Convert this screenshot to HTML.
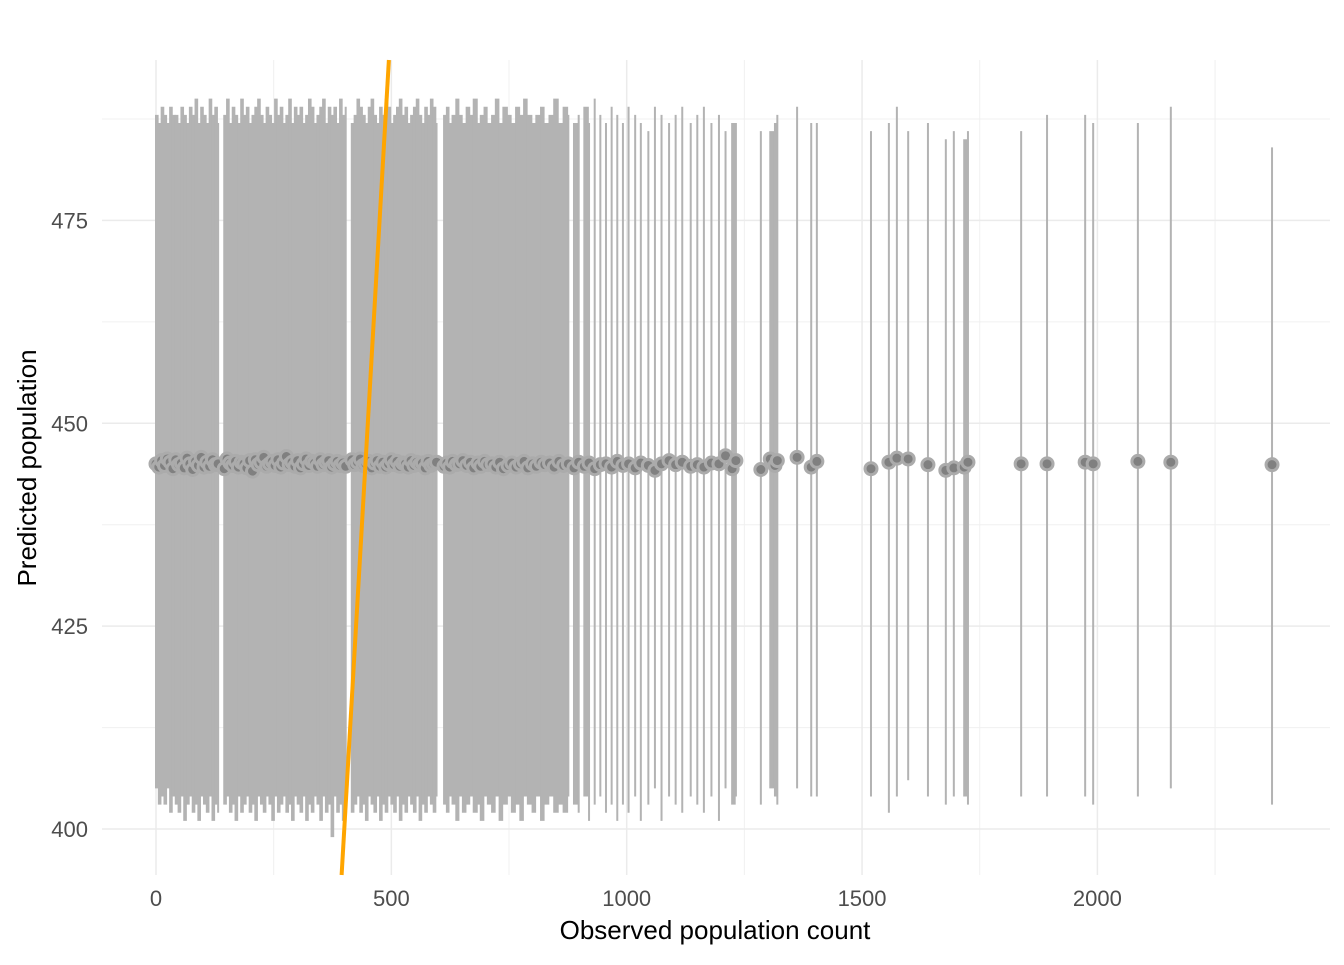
<!DOCTYPE html>
<html><head><meta charset="utf-8">
<style>
html,body{margin:0;padding:0;background:#fff;}
svg text{font-family:"Liberation Sans",Arial,sans-serif;}
</style></head>
<body>
<svg id="chart" width="1344" height="960" viewBox="0 0 1344 960" xmlns="http://www.w3.org/2000/svg">
<g id="grid"></g>
<g id="bars"></g>
<g id="pts"></g>
<g id="ref"></g>
<g id="axes"></g>
<text x="715" y="939" font-size="26" text-anchor="middle" fill="#000">Observed population count</text>
<text x="0" y="0" font-size="26" text-anchor="middle" fill="#000" transform="translate(36,468) rotate(-90)">Predicted population</text>
</svg>
<script>
const xTicks=[0,500,1000,1500,2000];
const xMinor=[250,750,1250,1750,2250];
const yTicks=[400,425,450,475];
const yMinor=[412.5,437.5,462.5,487.5];
const obs=[0,6,12,18,24,30,36,42,48,54,60,66,72,78,84,90,96,102,108,114,120,126,132,145,151,157,163,169,175,181,187,193,199,205,211,217,223,229,235,241,247,253,259,265,271,277,283,289,295,301,307,313,319,325,331,337,343,349,355,361,367,373,379,385,391,397,403,416,422,428,434,440,446,452,458,464,470,476,482,488,494,500,506,512,518,524,530,536,542,548,554,560,566,572,578,584,590,596,612,618,
624,630,638,645,652,660,668,675,684,690,698,705,714,722,730,738,748,756,765,774,782,790,800,808,818,826,836,846,856,866,876,888,898,910,920,932,944,956,968,980,992,1004,1018,1030,1046,1060,1074,1090,1104,1118,1136,1150,1164,1180,1196,1210,1224,1232,
1285,1305,1315,1320,1362,1392,1404,1519,1557,1574,1598,1640,1678,1695,1717,1725,1838,1893,1974,1991,2086,2156,2371];
const pred=[445,444.6,445.4,444.8,445.6,445.2,444.4,445.5,444.9,445.1,444.5,445.7,445.0,444.3,445.3,444.8,445.8,444.6,445.2,444.7,445.5,444.9,445.0,444.4,445.6,445.1,444.8,445.3,444.6,445.2,445.0,444.5,445.4,444.1,445.5,444.9,445.2,445.8,444.7,445.0,445.3,444.8,445.5,444.6,445.1,445.9,444.9,445.2,444.7,445.4,444.5,445.0,445.6,444.8,445.3,445.1,444.7,445.5,444.9,445.2,445.4,444.6,445.0,445.3,444.8,445.1,444.7,445.5,444.9,445.2,445.6,444.8,445.0,445.3,444.5,445.1,445.4,444.7,445.2,444.6,445.0,445.5,444.9,445.3,444.7,445.1,445.0,444.6,445.4,444.8,445.2,444.9,445.1,444.5,445.3,444.8,445.0,445.2,444.7,445.1,
444.6,445.3,444.9,445.0,445.4,444.8,445.2,444.5,445.1,444.7,445.3,444.9,445.0,444.6,445.2,444.4,444.8,445.1,444.6,445.0,445.3,444.5,445.0,444.7,445.2,444.9,445.1,444.6,445.3,444.8,445.0,444.5,445.2,444.7,445.1,444.4,444.9,445.0,444.6,445.3,444.8,445.0,444.5,445.1,444.8,444.2,445.0,445.4,444.9,445.2,444.7,444.9,444.6,445.1,445.0,446.0,444.4,445.4,
444.3,445.6,444.8,445.4,445.8,444.6,445.3,444.4,445.2,445.7,445.6,444.9,444.2,444.5,444.6,445.2,445.0,445.0,445.2,445.0,445.3,445.2,444.9];
const lo=[405,403,404,403,405,402,404,403,402,404,401,403,404,402,403,401,404,403,402,404,401,403,402,403,404,402,403,401,404,402,403,404,402,403,401,404,403,402,404,403,401,404,402,403,404,402,403,401,404,403,402,404,401,403,402,404,403,401,404,402,403,399,404,402,403,401,404,402,403,404,402,403,401,404,403,402,404,401,403,402,404,403,402,404,401,403,402,404,403,402,404,401,403,402,404,403,402,404,403,402,
404,403,401,404,402,403,404,402,403,401,404,403,402,404,401,403,404,402,403,401,404,403,402,404,401,403,404,402,403,402,404,403,402,404,401,403,404,402,403,401,403,402,404,401,403,405,401,404,403,402,404,403,402,404,401,405,403,404,
403,405,404,403,405,404,404,404,402,404,406,404,403,404,404,403,404,404,404,403,404,405,403];
const hi=[488,487,489,488,487,489,488,488,487,489,488,487,489,488,490,487,489,488,487,490,488,489,487,488,490,487,489,488,487,490,488,489,487,488,489,490,488,487,489,488,487,490,488,489,487,488,490,487,489,488,489,487,488,490,489,487,488,489,490,487,489,488,489,487,490,488,489,487,488,490,489,488,487,489,490,488,487,489,488,490,489,487,488,489,490,488,489,487,488,489,490,488,487,489,488,490,489,487,488,489,
487,488,490,488,487,489,488,490,487,488,489,487,488,490,487,489,488,487,489,488,490,488,487,488,489,487,488,490,487,489,488,487,488,489,487,490,488,487,489,488,487,489,488,487,486,489,488,487,488,489,487,488,489,487,488,486,487,487,
486,486,487,488,489,487,487,486,487,489,486,487,485,486,485,486,486,488,488,487,487,489,484];

const X=v=>156+v*0.4707;
const Y=v=>829-(v-400)*8.115;
const NS="http://www.w3.org/2000/svg";
function mk(p,tag,at){const e=document.createElementNS(NS,tag);for(const k in at)e.setAttribute(k,at[k]);p.appendChild(e);return e;}
const grid=document.getElementById('grid');
const L=102,R=1330,T=60,B=875;
xMinor.forEach(v=>{const e=mk(grid,'line',{x1:X(v),x2:X(v),y1:T,y2:B,stroke:'#f0f0f0','stroke-width':1});

});
yMinor.forEach(v=>{const e=mk(grid,'line',{x1:L,x2:R,y1:Y(v),y2:Y(v),stroke:'#f0f0f0','stroke-width':1});

});
xTicks.forEach(v=>{const e=mk(grid,'line',{x1:X(v),x2:X(v),y1:T,y2:B,stroke:'#ebebeb','stroke-width':1.5});

});
yTicks.forEach(v=>{const e=mk(grid,'line',{x1:L,x2:R,y1:Y(v),y2:Y(v),stroke:'#ebebeb','stroke-width':1.5});

});
const axes=document.getElementById('axes');
xTicks.forEach(v=>{const t=mk(axes,'text',{x:X(v),y:906,'font-size':22,'text-anchor':'middle',fill:'#4d4d4d'});t.textContent=v;

});
yTicks.forEach(v=>{const t=mk(axes,'text',{x:88,y:Y(v)+8,'font-size':22,'text-anchor':'end',fill:'#4d4d4d'});t.textContent=v;

});
const bars=document.getElementById('bars'),pts=document.getElementById('pts');
obs.forEach((o,i)=>{
  const gap=i<obs.length-1?X(obs[i+1])-X(o):10;
  const w=gap<5?gap+0.8:2;
  const e=mk(bars,'line',{x1:X(o)+w/2-1,x2:X(o)+w/2-1,y1:Y(lo[i]),y2:Y(hi[i]),stroke:'#b3b3b3','stroke-width':w});

});
obs.forEach((o,i)=>{const c=mk(pts,'circle',{cx:X(o),cy:Y(pred[i]),r:6,fill:'#808080',stroke:'#ababab','stroke-width':3});

});
const ref=document.getElementById('ref');
const a=Math.max(0,400+(829-B)/8.115), b=400+(829-T)/8.115;
const ln=mk(ref,'line',{x1:X(a),y1:Y(a),x2:X(b),y2:Y(b),stroke:'#ffa500','stroke-width':4});


</script>
</body></html>
